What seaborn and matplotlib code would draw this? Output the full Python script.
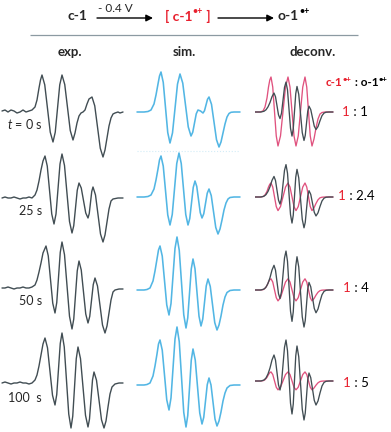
import matplotlib
matplotlib.use("Agg")
import matplotlib.pyplot as plt
import seaborn as sns

W, H = 391, 432

# ---- spectra (field offset in px, signal in px above baseline) ----
exp0_x = [2, 5, 8, 11, 14, 17, 20, 23, 26, 29, 32, 35, 37, 39, 40.5, 42, 44.75, 47.5, 50.25, 53,
          55.25, 57.5, 59.75, 62, 64.75, 67.5, 70.25, 73, 75, 77, 79, 81, 83, 85, 87, 89, 92,
          94.75, 97.5, 100.25, 103, 105, 107, 109, 111, 113, 115, 118, 120, 123]
exp0_y = [0, 1, -1, 1, 0, -2, -1, 1, -1, 0, 1, 4, 11, 23, 31, 36, 26.2, 2.5, -21.2, -31,
          -21.2, 2.5, 26.2, 36, 26.5, 3.5, -19.5, -29, -22, -12, -5, -2, -1, 1, 7, 12, 14,
          5.2, -16, -37.2, -46, -39, -27, -15, -7, -3, -2, -1, -2, -1]

exp25_x = [2, 5, 8, 11, 14, 17, 20, 23, 26, 29, 32, 35, 37, 39, 41, 43, 45, 47.25, 49.5, 51.75, 54,
           56, 58, 60, 62, 64.5, 67, 69.5, 72, 73.75, 75.5, 77.25, 79, 81.25, 83.5, 85.75, 88,
           89.25, 90.5, 91.75, 93, 95.5, 98, 100.5, 103, 105, 107, 109, 111, 113, 118, 123]
exp25_y = [0, 1, 0, 0, 1, 0, -1, 0, 0, 1, 0, 3, 8, 17, 28, 37, 42, 32, 8, -16, -26,
           -16, 9, 34, 44, 32.5, 4.5, -23.5, -35, -27.7, -10, 7.7, 15, 10, -2.5, -15, -20,
           -15.5, -4.5, 6.5, 11, 3, -16.5, -36, -44, -37, -24, -11, -3, -1, 0, 0]

exp50_x = [2, 5, 8, 11, 14, 17, 20, 23, 26, 29, 32, 35, 37, 39, 41, 43, 46, 48.25, 50.5, 52.75, 55,
           56.75, 58.5, 60.25, 62, 64.5, 67, 69.5, 72, 73.75, 75.5, 77.25, 79, 81.25, 83.5, 85.75, 88,
           89.75, 91.5, 93.25, 95, 97.5, 100, 102.5, 105, 107, 109, 111, 113, 115, 119, 123]
exp50_y = [0, 0, 1, 0, -1, 0, 0, 1, 0, 0, 1, 3, 8, 16, 25, 35, 42, 32.2, 8.5, -15.2, -25,
           -14.6, 10.5, 35.6, 46, 33.3, 2.5, -28.3, -41, -31.1, -7, 17.1, 27, 18, -4, -26, -35,
           -28.4, -12.5, 3.4, 10, 2, -17.5, -37, -45, -38, -25, -12, -4, -2, -1, -1]

exp100_x = [2, 5, 8, 11, 14, 17, 20, 23, 26, 29, 32, 35, 37, 39, 41, 43, 45, 47.5, 50, 52.5, 55,
            56.75, 58.5, 60.25, 62, 64.25, 66.5, 68.75, 71, 72.75, 74.5, 76.25, 78, 80.5, 83, 85.5, 88,
            89.5, 91, 92.5, 94, 96.5, 99, 101.5, 104, 106, 108, 110, 112, 115, 119, 123]
exp100_y = [0, 1, 0, -1, 0, 0, 1, 0, 0, -1, 0, 3, 8, 17, 28, 39, 45, 35.2, 11.5, -12.2, -22,
            -11.5, 14, 39.5, 50, 36.1, 2.5, -31.1, -45, -33.2, -4.5, 24.2, 36, 24.3, -4, -32.3, -44,
            -36, -16.5, 3, 11, 2.8, -17, -36.8, -45, -38, -24, -11, -4, -1, 0, 0]

sim0_x = [7, 14, 18, 21, 24, 26, 28, 29.5, 31, 33.25, 35.5, 37.75, 40, 42.5, 45, 47.5, 50,
          52.75, 55.5, 58.25, 61, 62.75, 64.5, 66.25, 68, 70.5, 73, 74.5, 76, 77.5, 79,
          81.5, 84, 86.5, 89, 91, 93, 95, 97, 99, 101, 104, 110]
sim0_y = [0, 0, 0.5, 2, 8, 17, 28, 36, 40, 29.6, 4.5, -20.6, -31, -20.9, 3.5, 27.9, 38,
          28.9, 7, -14.9, -24, -20.2, -11, -1.8, 2, 1, -1, 1.3, 7, 12.7, 15,
          7.7, -10, -27.7, -35, -30, -21, -12, -5, -1.5, -0.3, 0, 0]

sim25_x = [7, 14, 18, 21, 24, 26, 28, 29.5, 31, 33.25, 35.5, 37.75, 40, 42.25, 44.5, 46.75, 49,
           51.25, 53.5, 55.75, 58, 59.75, 61.5, 63.25, 65, 66.75, 68.5, 70.25, 72, 73.75, 75.5, 77.25, 79,
           81.25, 83.5, 85.75, 88, 90, 92, 94, 96, 98, 100, 104, 110]
sim25_y = [0, 0, 0.5, 2, 8, 17, 28, 37, 41, 30.9, 6.5, -17.9, -28, -17.5, 8, 33.5, 44,
           33.5, 8, -17.5, -28, -21.6, -6, 9.6, 16, 10.6, -2.5, -15.6, -21, -16.8, -6.5, 3.8, 8,
           1.4, -14.5, -30.4, -37, -32, -23, -13, -6, -2, -0.5, 0, 0]

sim50_x = [7, 14, 17, 20, 23, 25, 27, 28.5, 30, 32.25, 34.5, 36.75, 39, 41, 43, 45, 47,
           49.25, 51.5, 53.75, 56, 57.75, 59.5, 61.25, 63, 65, 67, 69, 71, 72.75, 74.5, 76.25, 78,
           80.25, 82.5, 84.75, 87, 89, 91, 93, 95, 97, 100, 104, 110]
sim50_y = [0, 0, 0.5, 2, 9, 19, 31, 40, 44, 33.9, 9.5, -14.9, -25, -13.6, 14, 41.6, 53,
           39.7, 7.5, -24.7, -38, -27.9, -3.5, 20.9, 31, 21.2, -2.5, -26.2, -36, -29.1, -12.5, 4.1, 11,
           3.6, -14.5, -32.6, -40, -35, -26, -15, -7, -2.5, -0.5, 0, 0]

sim100_x = [7, 14, 17, 20, 23, 25, 27, 28.5, 30, 32.25, 34.5, 36.75, 39, 41, 43, 45, 47,
            49.25, 51.5, 53.75, 56, 57.75, 59.5, 61.25, 63, 65.25, 67.5, 69.75, 72, 73.75, 75.5, 77.25, 79,
            81, 83, 85, 87, 89, 91, 93, 95, 97, 100, 104, 110]
sim100_y = [0, 0, 0.5, 2, 9, 19, 31, 41, 45, 34.8, 10, -14.8, -25, -12.9, 16.5, 45.9, 58,
            43.4, 8, -27.4, -42, -30.6, -3, 24.6, 36, 25, -1.5, -28, -39, -32.3, -16, 0.3, 7,
            0, -17, -34, -41, -36, -27, -16, -8, -3, -0.5, 0, 0]

# deconvolved components and their weights per time step
c1_x = [0, 5, 8, 10, 12, 13.5, 14.8, 16, 17.75, 19.5, 21.25, 23, 25.5, 28, 30.5, 33,
        35, 37, 39, 41, 43.25, 45.5, 47.75, 50, 51.75, 53.5, 55.25, 57,
        59, 61, 63, 65, 67, 70, 78]
c1_y = [0, 0, 1, 5, 14, 25, 32, 35, 24.9, 0.5, -23.9, -34, -23.9, 0.5, 24.9, 35,
        24.9, 0.5, -23.9, -34, -23.9, 0.5, 24.9, 35, 24.9, 0.5, -23.9, -34,
        -27, -16, -7, -2, -0.5, 0, 0]
o1_x = [0, 6, 9, 11, 13, 15, 17, 19, 20.5, 22, 23.5, 25, 26.5, 28, 29.5, 31,
        32.5, 34, 35.5, 37, 38.25, 39.5, 40.75, 42, 43.75, 45.5, 47.25, 49,
        50.25, 51.5, 52.75, 54, 55.75, 57.5, 59.25, 61, 63, 65, 67, 69, 71, 74, 78]
o1_y = [0, 0, 1, 3, 7, 13, 21, 26, 20.9, 8.5, -3.9, -9, -1.7, 16, 33.7, 41,
        30.2, 4, -22.2, -33, -23.1, 1, 25.1, 35, 24.2, -2, -28.2, -39,
        -32.1, -15.5, 1.1, 8, 3.3, -8, -19.3, -24, -20, -12, -5, -1.5, -0.3, 0, 0]
c1_weight = [1.0, 0.4, 0.32, 0.26]
o1_weight = [0.73, 0.79, 0.95, 1.0]

time_labels = ["$t$ = 0 s", "25 s", "50 s", "100  s"]
ratio_labels = ["1", "2.4", "4", "5"]

exp_series = [(exp0_x, exp0_y), (exp25_x, exp25_y), (exp50_x, exp50_y), (exp100_x, exp100_y)]
sim_series = [(sim0_x, sim0_y), (sim25_x, sim25_y), (sim50_x, sim50_y), (sim100_x, sim100_y)]

# ---- layout (pixels) ----
COL_LEFT = {"exp": 0, "sim": 130, "deconv": 255}
ROW_BASE = {"exp": [111, 198, 288, 383], "sim": [112, 197, 290, 385], "deconv": [112, 197, 290, 381]}
HALF = 65
COL_W = 125

C_EXP = "#414d53"
C_SIM = "#52b6e4"
C_RED = "#e0527f"
C_TXT_RED = "#e8202e"

sns.set_style("white")
plt.rcParams["font.family"] = ["Lato", "DejaVu Sans"]
plt.rcParams["mathtext.fontset"] = "custom"
plt.rcParams["mathtext.rm"] = "Lato"
plt.rcParams["mathtext.it"] = "Lato:italic"
plt.rcParams["mathtext.bf"] = "Lato:bold"

fig = plt.figure(figsize=(W / 100, H / 100), dpi=100)


def cell(col, row):
    left = COL_LEFT[col]
    base = ROW_BASE[col][row]
    ax = fig.add_axes([left / W, 1 - (base + HALF) / H, COL_W / W, 2 * HALF / H])
    ax.set_xlim(0, COL_W)
    ax.set_ylim(-HALF, HALF)
    ax.axis("off")
    ax.patch.set_alpha(0)
    return ax


for r in range(4):
    ax = cell("exp", r)
    x, y = exp_series[r]
    sns.lineplot(x=x, y=y, ax=ax, color=C_EXP, lw=1.0, sort=False, estimator=None)

    ax = cell("sim", r)
    x, y = sim_series[r]
    sns.lineplot(x=x, y=y, ax=ax, color=C_SIM, lw=1.15, sort=False, estimator=None)

    ax = cell("deconv", r)
    sns.lineplot(x=c1_x, y=[v * c1_weight[r] for v in c1_y], ax=ax, color=C_RED, lw=0.95,
                 sort=False, estimator=None)
    sns.lineplot(x=o1_x, y=[v * o1_weight[r] for v in o1_y], ax=ax, color=C_EXP, lw=0.95,
                 sort=False, estimator=None)

# ---- annotation layer in pixel coordinates ----
ov = fig.add_axes([0, 0, 1, 1])
ov.set_xlim(0, W)
ov.set_ylim(H, 0)
ov.axis("off")
ov.patch.set_alpha(0)

SUP = 3  # superscript raise, points


def chain(prev, s, size, color="black", weight="bold", dy=0):
    """Place text s right after the artist prev, shifted vertically by dy points."""
    return ov.annotate(s, xy=(1, 0.5), xycoords=prev, xytext=(0, dy),
                       textcoords="offset points", ha="left", va="center",
                       fontsize=size, fontweight=weight, color=color)


HS = 10  # header font size
ov.text(67, 16, "c-1", ha="left", va="center", fontsize=HS, fontweight="bold")
ov.text(115, 8, "- 0.4 V", ha="center", va="center", fontsize=8.5)
arrow = dict(arrowstyle="-|>", color="black", lw=1.0, mutation_scale=10, shrinkA=0, shrinkB=0)
ov.annotate("", xy=(153, 18), xytext=(97, 18), arrowprops=arrow)
t = ov.text(165, 16, "[ c-1", ha="left", va="center", fontsize=HS, fontweight="bold", color=C_TXT_RED)
t = chain(t, "\u2022+", 6.5, C_TXT_RED, dy=SUP)
chain(t, " ]", HS, C_TXT_RED, dy=-SUP)
ov.annotate("", xy=(274, 18), xytext=(218, 18), arrowprops=arrow)
t = ov.text(278, 16, "o-1", ha="left", va="center", fontsize=HS, fontweight="bold")
chain(t, "\u2022+", 6.5, dy=SUP)
ov.hlines(35, 30, 358, color="#8c9aa2", lw=0.9)

for label, xc in [("exp.", 70), ("sim.", 184), ("deconv.", 313)]:
    ov.text(xc, 52, label, ha="center", va="center", fontsize=9.5, fontweight="bold")

for lab, yc in zip(time_labels, [124, 211, 301, 398]):
    ov.text(42, yc, lab, ha="right", va="center", fontsize=9)

# faint separator under the first simulated spectrum
ov.hlines(151, 137, 240, color="#d3ecf7", lw=0.8, linestyles=":")

t = ov.text(326, 83, "c-1", ha="left", va="center", fontsize=8.5, fontweight="bold", color=C_TXT_RED)
t = chain(t, "\u2022+", 5.5, C_TXT_RED, dy=2.5)
t = chain(t, " : o-1", 8.5, dy=-2.5)
chain(t, "\u2022+", 5.5, dy=2.5)

for lab, xl, yc in zip(ratio_labels, [342, 338, 343, 343], [112, 196, 288, 383]):
    t = ov.text(xl, yc, "1", ha="left", va="center", fontsize=9.5, color=C_TXT_RED)
    chain(t, " : " + lab, 9.5, weight="normal")

fig.savefig("out.png", dpi=100)
